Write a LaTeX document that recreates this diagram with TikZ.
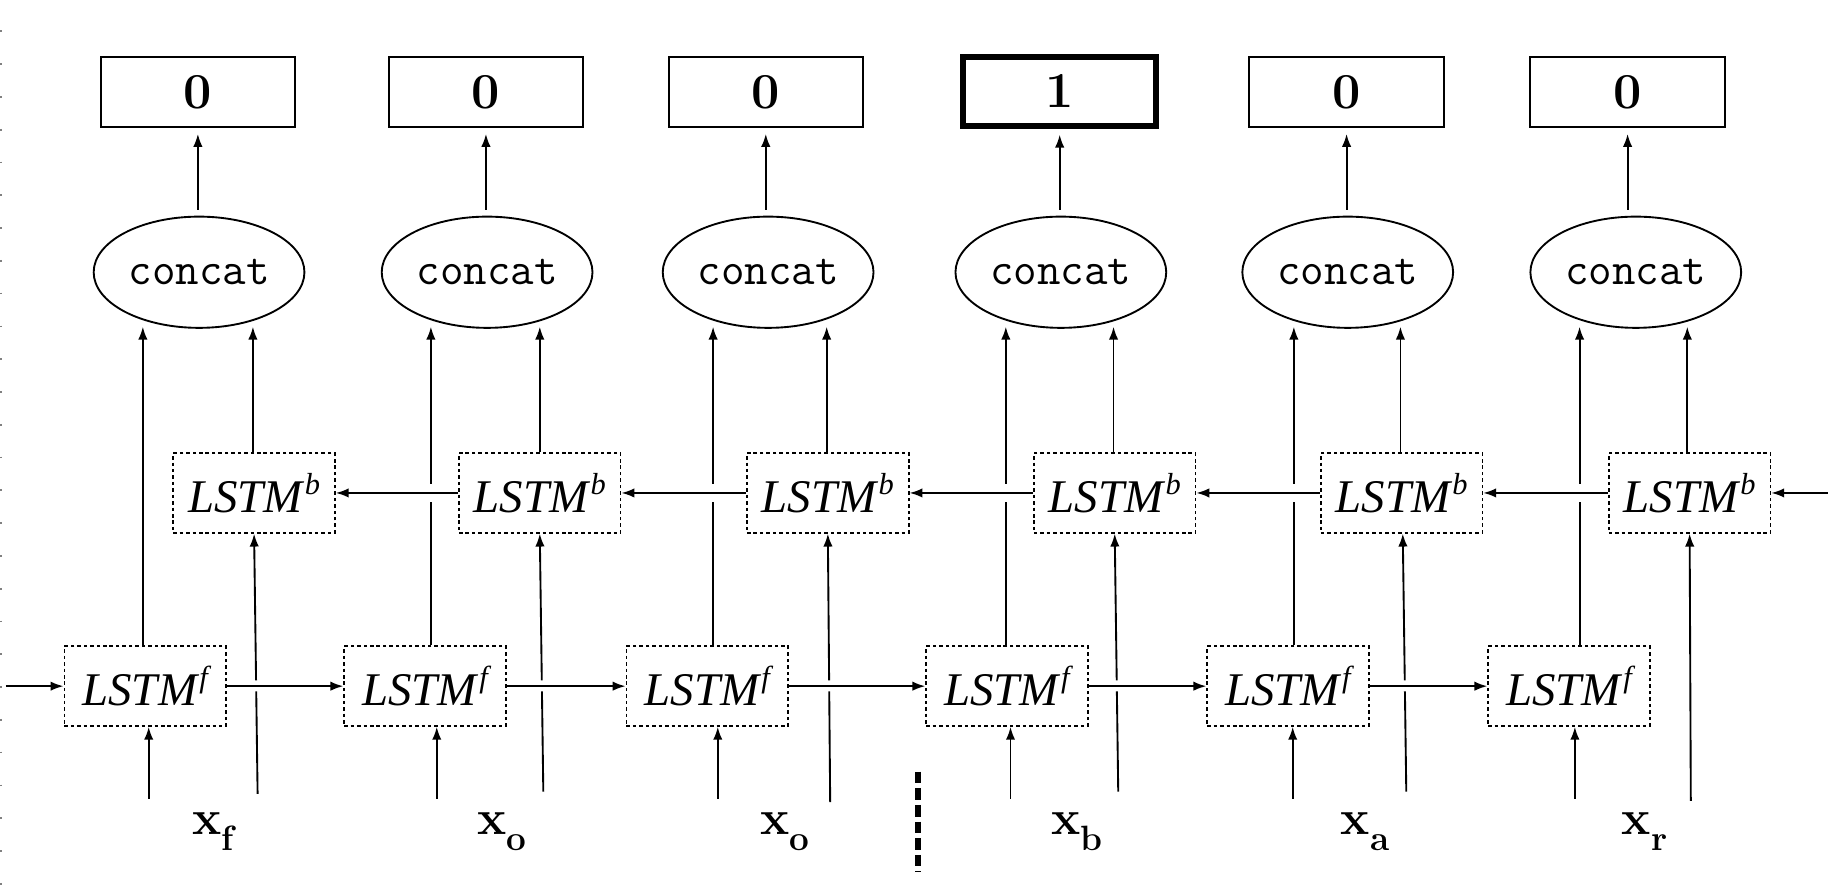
\documentclass[tikz,border=0pt]{standalone}
\usepackage{fontspec}
\usetikzlibrary{arrows.meta,shapes.geometric,calc}
\newfontfamily\tnrfam{Liberation Serif}
\newcommand\catfont{\ttfamily\fontsize{39pt}{39pt}\selectfont}
\newcommand\digfont{\rmfamily\bfseries\fontsize{43pt}{43pt}\selectfont}
\newcommand\xlblfont{\rmfamily\bfseries\fontsize{42pt}{42pt}\selectfont}
\newcommand\sublblfont{\rmfamily\bfseries\fontsize{30pt}{30pt}\selectfont}
\newcommand\lstmfont{\tnrfam\itshape\fontsize{40pt}{40pt}\selectfont}
\newcommand\lstmtxt[1]{{\lstmfont LSTM\kern2pt\raisebox{15pt}{\fontsize{26pt}{26pt}\selectfont #1}}}
\newcommand\xlbl[1]{{\xlblfont x\raisebox{-13pt}{\sublblfont #1}}}
\tikzset{
  outbox/.style={draw, line width=1.7pt, minimum width=166pt, minimum height=60pt, inner sep=0pt, font=\digfont},
  hotbox/.style={outbox, line width=5pt, minimum width=165pt, minimum height=59pt},
  catnode/.style={ellipse, draw, line width=1.6pt, minimum width=180pt, minimum height=95pt, inner sep=0pt, font=\catfont},
  lstmbox/.style={draw, line width=1.5pt, dash pattern=on 3pt off 2.5pt, minimum width=138pt, minimum height=68pt, inner sep=0pt},
  conn/.style={line width=1.6pt},
  arr/.style={conn, -{Latex[length=11pt,width=8pt]}},
  lbl/.style={anchor=base west, inner sep=0pt},
  sepline/.style={line width=5pt, dash pattern=on 10pt off 4.2pt},
  edgeticks/.style={gray, line width=1.5pt, dash pattern=on 1.5pt off 26.5pt}
}
\begin{document}
\begin{tikzpicture}[x=1pt,y=-1pt]
\useasboundingbox (0,0) rectangle (1568,765);
% page edge ticks
\coordinate (edgeA) at (0.75,26);
\coordinate (edgeB) at (0.75,765);
\draw[edgeticks] (edgeA) -- (edgeB);

% output boxes
\node[outbox] (o1) at (169,78.5) {0};
\node[outbox] (o2) at (415,78.5) {0};
\node[outbox] (o3) at (654,78.5) {0};
\node[hotbox] (o4) at (905,78) {1};
\node[outbox] (o5) at (1150,78.5) {0};
\node[outbox] (o6) at (1390,78.5) {0};

% concat ellipses
\node[catnode] (e1) at (170,232.5) {concat};
\node[catnode] (e2) at (416,232.5) {concat};
\node[catnode] (e3) at (656,232.5) {concat};
\node[catnode] (e4) at (906,232.5) {concat};
\node[catnode] (e5) at (1151,232.5) {concat};
\node[catnode] (e6) at (1397,232.5) {concat};

% backward LSTMs
\node[lstmbox] (b1) at (217,421) {\lstmtxt{b}};
\node[lstmbox] (b2) at (461,421) {\lstmtxt{b}};
\node[lstmbox] (b3) at (707,421) {\lstmtxt{b}};
\node[lstmbox] (b4) at (952,421) {\lstmtxt{b}};
\node[lstmbox] (b5) at (1197,421) {\lstmtxt{b}};
\node[lstmbox] (b6) at (1443,421) {\lstmtxt{b}};

% forward LSTMs
\node[lstmbox] (f1) at (124,586) {\lstmtxt{f}};
\node[lstmbox] (f2) at (363,586) {\lstmtxt{f}};
\node[lstmbox] (f3) at (604,586) {\lstmtxt{f}};
\node[lstmbox] (f4) at (860,586) {\lstmtxt{f}};
\node[lstmbox] (f5) at (1100,586) {\lstmtxt{f}};
\node[lstmbox] (f6) at (1340,586) {\lstmtxt{f}};

% input labels
\node[lbl] (x1) at (164,713) {\xlbl{f}};
\node[lbl] (x2) at (407.5,713) {\xlbl{o}};
\node[lbl] (x3) at (649,713) {\xlbl{o}};
\node[lbl] (x4) at (898,713) {\xlbl{b}};
\node[lbl] (x5) at (1145,713) {\xlbl{a}};
\node[lbl] (x6) at (1385,713) {\xlbl{r}};

% concat -> output
\foreach \i in {1,...,6}{
  \draw[arr, shorten <=5pt, shorten >=5pt] (e\i.north -| o\i.south) -- (o\i.south);
}

% tips of the lines into the ellipses
\foreach \i/\xf/\xb in {1/122/216, 2/368/461, 3/609/706, 4/859/951, 5/1105/1196, 6/1349/1441}{
  \coordinate (tf\i) at (\xf,279);
  \coordinate (tb\i) at (\xb,279);
  \draw[arr] (b\i.north -| tb\i) -- (tb\i);
}
% forward LSTM -> concat (col 1 uninterrupted)
\draw[arr] (f1.north -| tf1) -- (tf1);
\foreach \i in {2,...,6}{
  \draw[conn] (f\i.north -| tf\i) -- (tf\i |- 0,428.5);
  \draw[arr] (tf\i |- 0,413) -- (tf\i);
}

% inputs to forward LSTMs
\foreach \i/\xs in {1/127, 2/373, 3/613, 4/863, 5/1104, 6/1345}{
  \coordinate (sf\i) at (\xs,682);
  \draw[arr] (sf\i) -- (sf\i |- f\i.south);
}

% inputs to backward LSTMs
\foreach \i/\xs/\ys/\xt in {1/220/678/217, 2/464/676/461, 3/709/685/707, 4/955/676/952, 5/1201/676/1198}{
  \coordinate (sb\i) at (\xs,\ys);
  \coordinate (ub\i) at (b\i.south -| \xt,0);
  \draw[conn] (sb\i) -- ($(sb\i)!(\xs,590.5)!(ub\i)$);
  \draw[arr] ($(sb\i)!(\xs,581)!(ub\i)$) -- (ub\i);
}
\coordinate (sb6) at (1444,684);
\coordinate (ub6) at (b6.south -| 1443,0);
\draw[arr] (sb6) -- (ub6);

% recurrent connections
\coordinate (lin) at (5,586);
\draw[arr] (lin) -- (f1.west);
\draw[arr] (f1.east) -- (f2.west);
\draw[arr] (f2.east) -- (f3.west);
\draw[arr] (f3.east) -- (f4.west);
\draw[arr] (f4.east) -- (f5.west);
\draw[arr] (f5.east) -- (f6.west);
\coordinate (rin) at (1561,421);
\draw[arr] (rin) -- (b6.east);
\draw[arr] (b6.west) -- (b5.east);
\draw[arr] (b5.west) -- (b4.east);
\draw[arr] (b4.west) -- (b3.east);
\draw[arr] (b3.west) -- (b2.east);
\draw[arr] (b2.west) -- (b1.east);

% separator
\coordinate (sepTop) at (784,659);
\coordinate (sepBot) at (784,745);
\draw[sepline] (sepTop) -- (sepBot);
\end{tikzpicture}
\end{document}
